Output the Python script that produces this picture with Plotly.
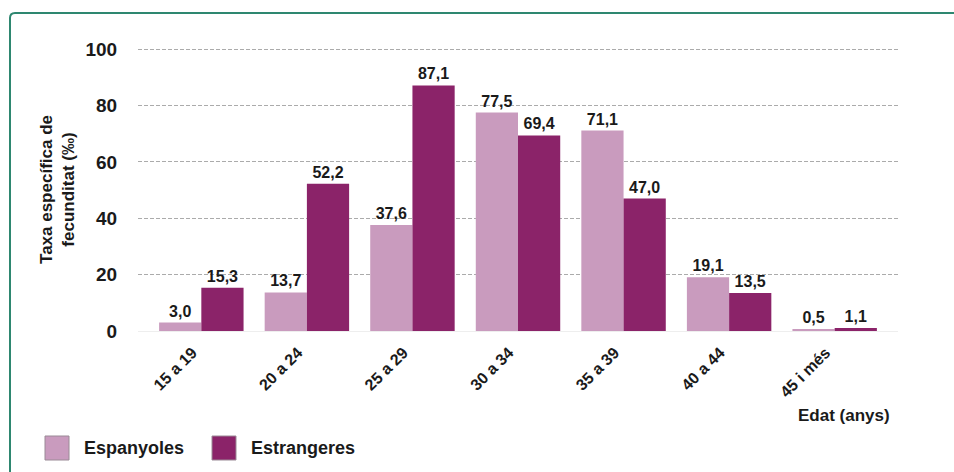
import plotly.graph_objects as go

# Data
edats = ['15 a 19', '20 a 24', '25 a 29', '30 a 34', '35 a 39', '40 a 44', '45 i més']
espanyoles = [3.0, 13.7, 37.6, 77.5, 71.1, 19.1, 0.5]
estrangeres = [15.3, 52.2, 87.1, 69.4, 47.0, 13.5, 1.1]
series_names = ['Espanyoles', 'Estrangeres']
colors = ['#C99BBE', '#8B2369']

font_family = 'Liberation Sans, Arial, sans-serif'

fig = go.Figure()
for name, vals, col in zip(series_names, [espanyoles, estrangeres], colors):
    fig.add_trace(go.Bar(
        x=edats, y=vals, name=name,
        marker=dict(color=col, line=dict(width=0)),
        texttemplate='<b>%{y:.1f}</b>', textposition='outside',
        textfont=dict(size=16, color='#1a1a1a', family=font_family),
        cliponaxis=False, showlegend=False,
    ))

fig.update_layout(
    width=954, height=472,
    margin=dict(l=138, r=56, t=48, b=141),
    paper_bgcolor='white', plot_bgcolor='white',
    separators=',.',
    barmode='group', bargap=0.2, bargroupgap=0,
    font=dict(family=font_family, color='#1a1a1a'),
    xaxis=dict(
        range=[-0.6, 6.6], tickangle=-45, showgrid=False, showline=False,
        automargin=False, ticklabelshift=-9,
        ticks='outside', ticklen=5, tickcolor='rgba(0,0,0,0)',
        tickfont=dict(size=16, family=font_family, weight='bold'),
    ),
    yaxis=dict(
        range=[0, 100.4], tickvals=[0, 20, 40, 60, 80, 100],
        automargin=False,
        showgrid=True, gridcolor='#ababab', griddash='4px,2px', gridwidth=1,
        zeroline=True, zerolinecolor='#eeeeee', zerolinewidth=1,
        showline=False, ticks='outside', ticklen=16, tickcolor='rgba(0,0,0,0)',
        tickfont=dict(size=19, family=font_family, weight='bold'),
        title=dict(text='Taxa específica de<br>fecunditat (‰)', standoff=6,
                   font=dict(size=17, family=font_family, weight='bold')),
    ),
)

# Border (rounded top-left corner)
W, H = 760, 283
def px(xp):
    return (xp - 138) / W
def py(yp):
    return (331 - yp) / H
fig.add_shape(type='path', xref='paper', yref='paper',
              path=f'M {px(10)},{py(480)} L {px(10)},{py(18)} Q {px(10)},{py(13)} {px(15)},{py(13)} L {px(960)},{py(13)}',
              line=dict(color='#2E8770', width=2), layer='below')

# Axis label
fig.add_annotation(text='<b>Edat (anys)</b>', xref='paper', yref='paper',
                   x=px(796), y=py(404), xanchor='left', yanchor='top',
                   showarrow=False,
                   font=dict(size=17, family=font_family, color='#1a1a1a'))

# Custom legend
legend_x = [45, 212]
for name, col, lx in zip(series_names, colors, legend_x):
    fig.add_shape(type='rect', xref='paper', yref='paper',
                  x0=px(lx), x1=px(lx + 24), y0=py(460), y1=py(436),
                  fillcolor=col, line=dict(color='#9a8a96', width=1))
    fig.add_annotation(text=f'<b>{name}</b>', xref='paper', yref='paper',
                       x=px(lx + 37), y=py(436), xanchor='left', yanchor='top',
                       showarrow=False,
                       font=dict(size=18, family=font_family, color='#1a1a1a'))

fig.write_html('out.html', config={'displayModeBar': False},
               post_script="document.body.style.margin='0';")
